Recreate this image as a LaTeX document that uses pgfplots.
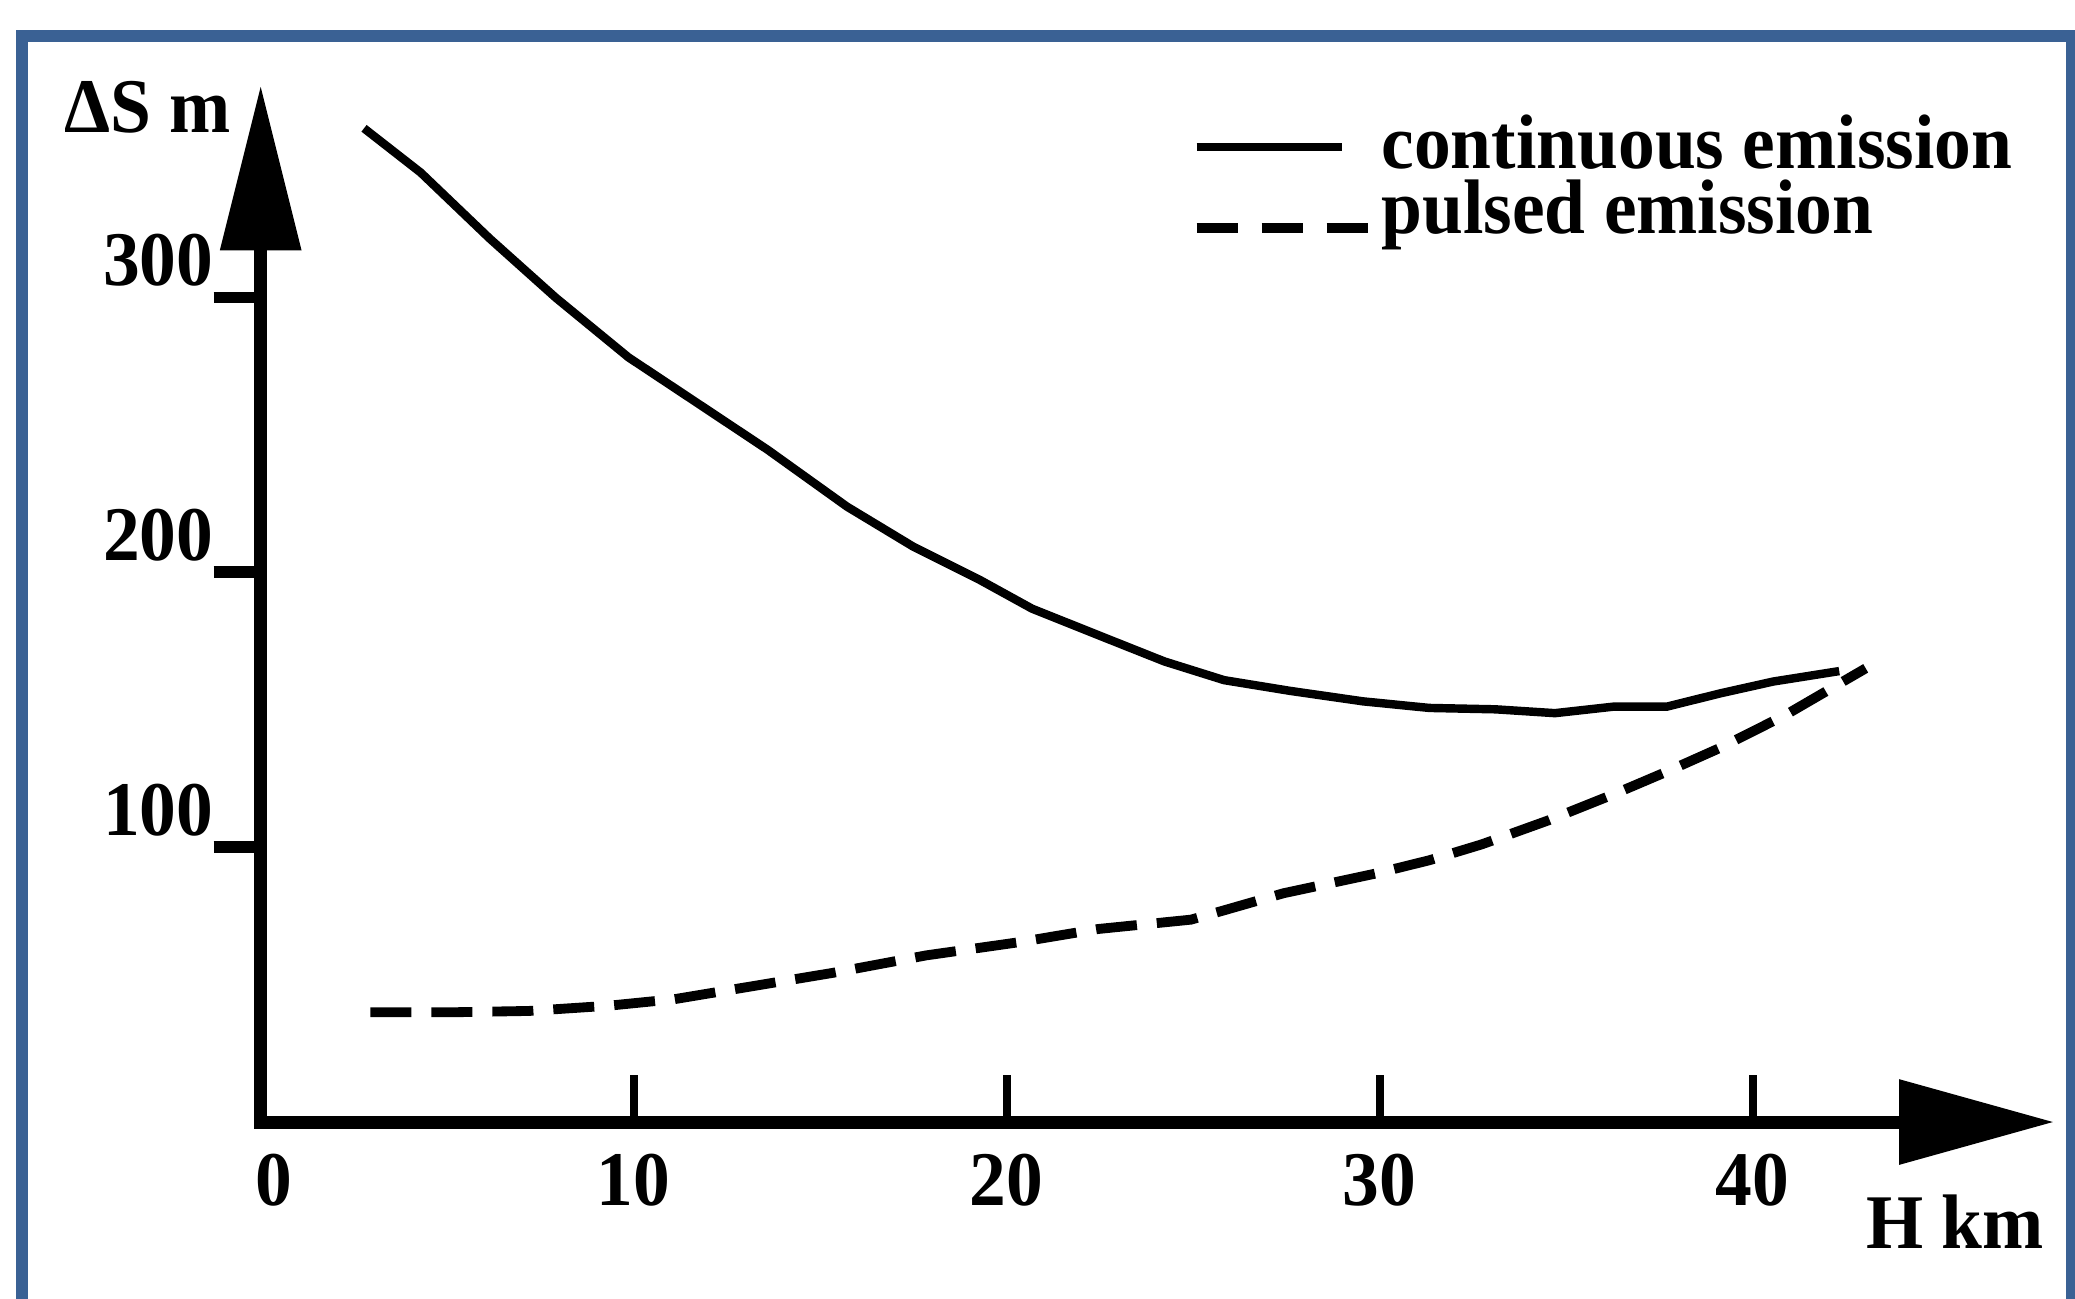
\documentclass[border=0pt]{standalone}
\usepackage{fontspec}
\setmainfont{Liberation Serif}[FakeStretch=0.95]
\usepackage{pgfplots}
\pgfplotsset{compat=1.18}
\usetikzlibrary{arrows.meta}
\definecolor{framecol}{HTML}{3A6194}
\pgfplotsset{
    solidleg/.style={legend image code/.code={\draw[#1] (0cm,0cm) -- (0.725cm,0cm);}},
    dashleg/.style={legend image code/.code={\draw[#1, dash pattern=on 0.205cm off 0.12cm] (0cm,-0.08cm) -- (0.855cm,-0.08cm);}},
}

\begin{document}
\begin{tikzpicture}
\useasboundingbox (0,0) rectangle (10.375,6.49);
\draw[framecol, line width=0.06cm] (0.11,-0.5) -- (0.11,6.31) -- (10.36,6.31) -- (10.36,-0.5);
\begin{axis}[
    at={(1.3035cm,0.88cm)}, anchor=south west,
    x=0.1865cm, y=0.01375cm,
    xmin=0, xmax=48.08, ymin=0, ymax=377,
    axis lines=left,
    clip=false,
    x axis line style={line width=1.85pt, line cap=rect, -{Triangle[length=0.775cm,width=0.41cm]}},
    y axis line style={line width=1.85pt, line cap=rect, -{Triangle[length=0.825cm,width=0.39cm]}},
    tick align=inside,
    major tick length=0.235cm,
    xtick style={line width=1.1pt, black},
    ytick style={line width=1.6pt, black, xshift=-0.235cm},
    xtick={0,10,20,30,40},
    xticklabels={{\kern0.13cm 0},10,20,30,40},
    ytick={100,200,300},
    /pgf/number format/assume math mode=true,
    tick label style={font=\fontsize{11}{13}\selectfont\bfseries},
    xticklabel style={anchor=north, inner sep=0pt, yshift=-0.155cm},
    yticklabel style={anchor=base east, inner sep=0pt, xshift=-0.23cm, yshift=0.06cm},
    xlabel={H km},
    ylabel={ΔS m},
    label style={font=\fontsize{11}{13}\selectfont\bfseries},
    xlabel style={at={(axis description cs:0.995,-0.1216)}, anchor=base east, inner sep=0pt},
    ylabel style={at={(axis description cs:-0.016,0.9547)}, rotate=-90, anchor=base east, inner sep=0pt},
    legend style={at={(axis description cs:0.5184,0.973)}, anchor=north west,
        draw=none, fill=none, inner sep=0pt, font=\fontsize{11}{13}\selectfont\bfseries,
        nodes={inner sep=0pt}, column sep=0.045cm, row sep=0.003cm},
    legend cell align=left,
]
\addplot[black, line width=1.2pt, solidleg]
coordinates {
    (2.77,361.4) (4.29,345.3) (6.14,321.3) (7.91,299.8) (9.86,278.1)
    (11.46,263.7) (13.59,244.5) (15.72,223.8) (17.49,209.3) (19.26,197.3)
    (20.68,186.7) (22.45,177.1) (24.23,167.5) (25.83,160.7) (27.6,156.8)
    (29.55,153.0) (31.33,150.6) (33.1,150.1) (34.7,148.7) (36.29,151.1)
    (37.71,151.1) (39.13,155.9) (40.55,160.2) (42.32,164.0)
};
\addlegendentry{continuous emission}
\addplot[black, line width=1.4pt, dash pattern=on 0.205cm off 0.1cm, dashleg]
coordinates {
    (2.94,39.9) (5.07,39.9) (7.2,40.4) (9.33,42.3) (11.1,44.7)
    (13.23,49.5) (15.36,54.3) (17.84,60.6) (20.33,65.4) (22.45,70.2)
    (24.94,73.6) (25.83,77.0) (27.42,83.2) (29.9,90.4) (31.33,95.2)
    (32.74,101.0) (34.52,109.7) (36.29,119.3) (37.71,127.5) (39.13,136.1)
    (40.9,148.2) (43.03,165.0)
};
\addlegendentry{pulsed emission}
\end{axis}
\end{tikzpicture}
\end{document}
